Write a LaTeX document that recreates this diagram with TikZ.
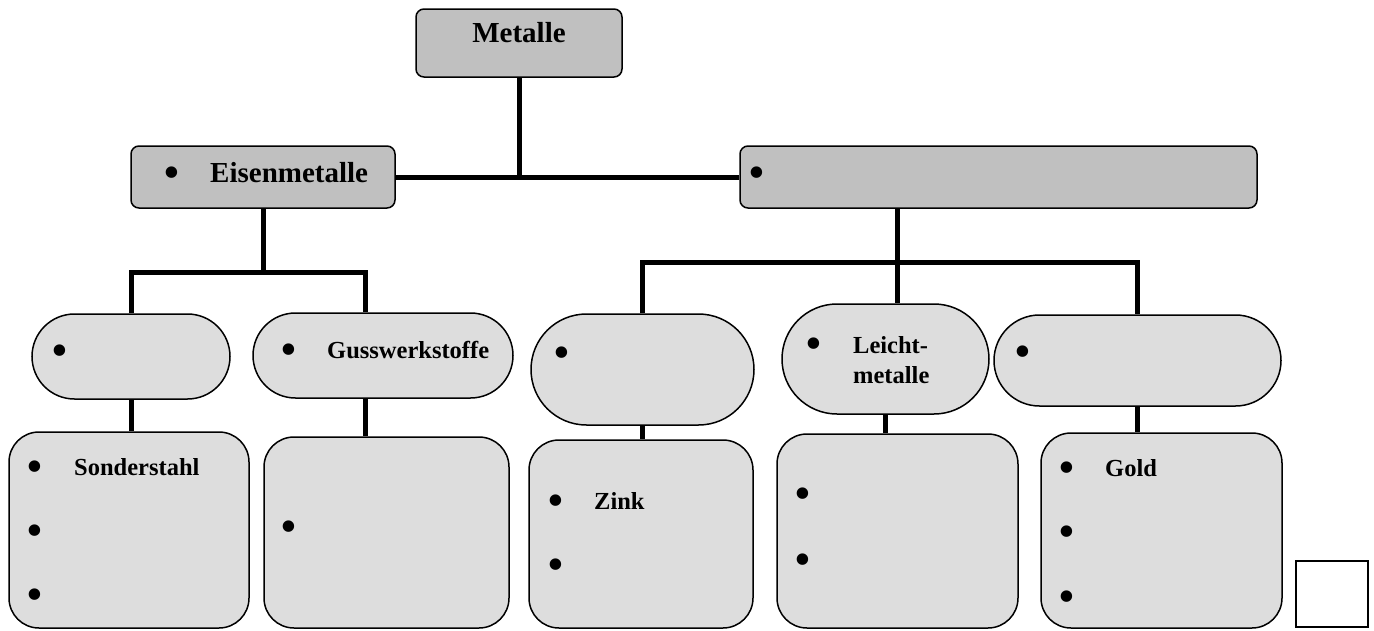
\documentclass[tikz,border=0pt]{standalone}
\usepackage{fontspec}
\setmainfont{Liberation Serif}
\usetikzlibrary{shapes.misc,calc}
\definecolor{topgray}{RGB}{192,192,192}
\definecolor{lowgray}{RGB}{221,221,221}
\begin{document}
\begin{tikzpicture}[x=1pt,y=-1pt,
  topbox/.style={draw, line width=1.5pt, fill=topgray, rounded corners=8pt, inner sep=0pt},
  ovalbox/.style={draw, line width=1.5pt, fill=lowgray, rounded rectangle, inner sep=0pt},
  cardbox/.style={draw, line width=1.5pt, fill=lowgray, rounded corners=30pt, inner sep=0pt},
  sqbox/.style={draw, line width=1.5pt, fill=white, inner sep=0pt},
  conn/.style={line width=5pt, line join=miter},
  bigtxt/.style={font=\fontsize{29}{32}\selectfont\bfseries, inner sep=0pt, anchor=base west},
  smalltxt/.style={font=\fontsize{24.5}{28}\selectfont\bfseries, inner sep=0pt, anchor=base west},
  dot/.style={font=\fontsize{48}{50}\selectfont, inner sep=0pt, anchor=base}]
\useasboundingbox (0,0) rectangle (1374,630);

% shapes
\node[topbox, minimum width=206pt, minimum height=68pt] (metalle) at (519,43) {};
\node[topbox, minimum width=264pt, minimum height=62pt] (eisen) at (263,177) {};
\node[topbox, minimum width=517pt, minimum height=62pt] (ne) at (998.5,177) {};

\node[ovalbox, minimum width=198pt, minimum height=85pt] (o1) at (131,356.5) {};
\node[ovalbox, minimum width=260pt, minimum height=85pt] (o2) at (383,355.5) {};
\node[ovalbox, minimum width=223pt, minimum height=111pt] (o3) at (642.5,369.5) {};
\node[ovalbox, minimum width=207pt, minimum height=110pt] (o4) at (885.5,359) {};
\node[ovalbox, minimum width=287pt, minimum height=91pt] (o5) at (1137.5,360.5) {};

\node[cardbox, minimum width=240pt, minimum height=196pt] (b1) at (129,530) {};
\node[cardbox, minimum width=245pt, minimum height=191pt] (b2) at (386.5,532.5) {};
\node[cardbox, minimum width=224pt, minimum height=188pt] (b3) at (641,534) {};
\node[cardbox, minimum width=241pt, minimum height=194pt] (b4) at (897.5,531) {};
\node[cardbox, minimum width=241pt, minimum height=195pt] (b5) at (1161.5,530.5) {};

\node[sqbox, minimum width=72pt, minimum height=66pt] (sq) at (1332,594) {};

% connectors
\coordinate (lbus) at (0,272);
\coordinate (rbus) at (0,262);
\coordinate (d2) at (365,272);
\coordinate (d4) at (897,262);

\draw[conn] (eisen.east) -- (ne.west);
\draw[conn] (metalle.south) -- (metalle.south |- eisen.east);

\draw[conn] (eisen.south) -- (eisen.south |- lbus);
\draw[conn] (o1.north) -- (o1.north |- lbus) -- (d2) -- (d2 |- o2.north);
\draw[conn] (o1.south) -- (o1.south |- b1.north);
\draw[conn] (d2 |- o2.south) -- (d2 |- b2.north);

\draw[conn] (d4 |- ne.south) -- (d4 |- o4.north);
\draw[conn] (o3.north) -- (o3.north |- rbus) -- (o5.north |- rbus) -- (o5.north);
\draw[conn] (o3.south) -- (o3.south |- b3.north);
\draw[conn] (o4.south) -- (o4.south |- b4.north);
\draw[conn] (o5.south) -- (o5.south |- b5.north);

% texts (bullet centres are 16pt above the given base points)
\node[font=\fontsize{29}{32}\selectfont\bfseries, inner sep=0pt, anchor=base] (tmet) at (519,42) {Metalle};

\node[dot] (e1) at (172,188) {•};
\node[bigtxt] (te) at (210,182) {Eisenmetalle};
\node[dot] (n1) at (757,188) {•};

\node[dot] (p1) at (60,366) {•};
\node[dot] (p2) at (289,365) {•};
\node[smalltxt] (tg) at (327,358) {Gusswerkstoffe};
\node[dot] (p3) at (562,368) {•};
\node[dot] (p4) at (814,359) {•};
\node[smalltxt] (tl1) at (853,353) {Leicht-};
\node[smalltxt] (tl2) at (853,383) {metalle};
\node[dot] (p5) at (1023,367) {•};

\node[dot] (q11) at (35,482) {•};
\node[smalltxt] (ts) at (74,475) {Sonderstahl};
\node[dot] (q12) at (35,546) {•};
\node[dot] (q13) at (35,610) {•};

\node[dot] (q21) at (289,542) {•};

\node[dot] (q31) at (556,516) {•};
\node[smalltxt] (tz) at (594,509) {Zink};
\node[dot] (q32) at (556,580) {•};

\node[dot] (q41) at (803,509) {•};
\node[dot] (q42) at (803,575) {•};

\node[dot] (q51) at (1067,483) {•};
\node[smalltxt] (tgo) at (1105,476) {Gold};
\node[dot] (q52) at (1067,547) {•};
\node[dot] (q53) at (1067,612) {•};
\end{tikzpicture}
\end{document}
